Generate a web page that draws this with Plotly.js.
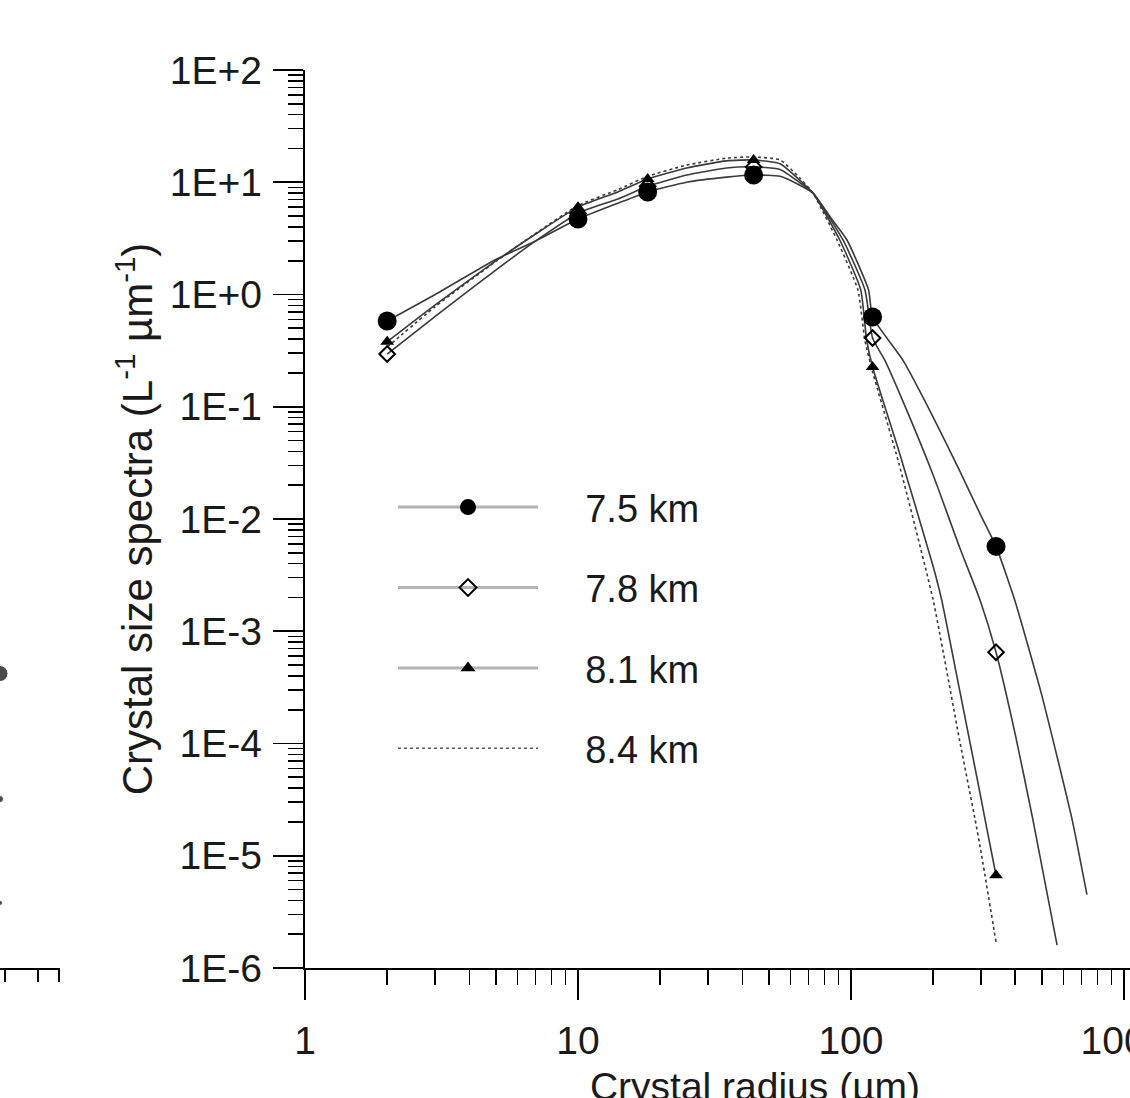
<!DOCTYPE html>
<html>
<head>
<meta charset="utf-8">
<script src="https://cdn.plot.ly/plotly-3.0.1.min.js"></script>
<style>
html, body { margin:0; padding:0; overflow:hidden; background:#fff; }
#chart { width:1205px; height:1120px; }
</style>
</head>
<body>
<div id="chart"></div>
<script>
// ---- data ----
const seriesNames = ['7.5 km', '7.8 km', '8.1 km', '8.4 km'];

// measured points (markers)
const radiusPts = [2, 10, 18, 44, 120, 340];
const n75 = [0.58, 4.7, 8.2, 11.6, 0.63, 0.0057];
const n78 = [0.295, 5.3, 9.2, 13.7, 0.41, 0.00065];
const n81 = [0.38, 6.0, 10.7, 15.8, 0.226, 0.0000067];

// traced curves
const curve75x = [2, 3, 5, 7, 10, 14, 18, 25, 35, 44, 55, 65, 72.6, 85, 96.7, 116, 120, 155, 200, 250, 300, 340, 398, 500, 646, 732];
const curve75y = [0.58, 1.0, 2.05, 3.0, 4.7, 6.5, 8.2, 10.0, 11.1, 11.6, 11.3, 9.4, 8.0, 4.7, 3.06, 1.10, 0.63, 0.26, 0.081, 0.027, 0.0106, 0.0057, 0.0019, 0.00027, 0.000021, 0.0000045];

const curve78x = [2, 3, 5, 7, 10, 14, 18, 25, 35, 44, 55, 65, 72.6, 93.5, 112.5, 120, 133, 150, 200, 250, 297, 340, 400, 464, 569];
const curve78y = [0.295, 0.64, 1.65, 3.0, 5.3, 7.1, 9.2, 11.6, 13.4, 13.7, 13.0, 9.9, 8.0, 3.06, 1.10, 0.41, 0.26, 0.135, 0.0247, 0.0056, 0.0019, 0.00065, 0.00012, 0.000021, 0.0000016];

const curve81x = [2, 3, 5, 7, 10, 14, 18, 25, 35, 44, 55, 65, 72.6, 91, 108.6, 114.2, 120, 150, 200, 215, 250, 300, 310, 340];
const curve81y = [0.38, 0.81, 1.99, 3.46, 6.0, 8.2, 10.7, 13.4, 15.5, 15.8, 14.6, 10.4, 8.0, 3.06, 1.10, 0.39, 0.226, 0.040, 0.0038, 0.0019, 0.0003, 0.000032, 0.000021, 0.0000067];

const curve84x = [2, 3, 5, 7, 10, 14, 18, 25, 35, 44, 55, 65, 72.6, 88.9, 106, 112.5, 120, 150, 200, 250, 285, 300, 340];
const curve84y = [0.34, 0.78, 1.97, 3.5, 6.2, 8.6, 11.3, 14.2, 16.4, 16.8, 15.8, 10.9, 8.0, 3.06, 1.10, 0.39, 0.205, 0.031, 0.0019, 0.000107, 0.000021, 0.0000106, 0.0000017];

// fragment of neighbouring panel (cropped at left edge)
const fragX = [0, 0, 0];
const fragY = [0.00042, 0.000032, 0.0000038];

// axis ticks
const xTickVals = [1, 10, 100, 1000];
const xTickText = ['1', '10', '100', '1000'];
const yTickVals = [1e-6, 1e-5, 1e-4, 1e-3, 1e-2, 1e-1, 1, 10, 100];
const yTickText = ['1E-6', '1E-5', '1E-4', '1E-3', '1E-2', '1E-1', '1E+0', '1E+1', '1E+2'];
const fragTickVals = [5, 38, 59];

// minor tick positions (2..9 within each decade)
function minorLog(startExp, endExp) {
  const out = [];
  for (let e = startExp; e < endExp; e++) {
    for (let m = 2; m <= 9; m++) out.push(m * Math.pow(10, e));
  }
  return out;
}

const FONT = 'Liberation Sans, Arial, Helvetica, sans-serif';
const TXT = '#1a1a1a';
const lineCol = '#3a3a3a';
const legCol = '#b4b4b4';
const PAD = '\u00A0\u00A0\u00A0\u00A0';

const traces = [];
// curves
const curves = [[curve75x, curve75y, 'solid'], [curve78x, curve78y, 'solid'], [curve81x, curve81y, 'solid'], [curve84x, curve84y, 'dot']];
curves.forEach(function (c) {
  traces.push({
    x: c[0], y: c[1], type: 'scatter', mode: 'lines',
    line: { color: lineCol, width: 1.6, shape: 'spline', smoothing: 0.5, dash: c[2] },
    showlegend: false, hoverinfo: 'skip', cliponaxis: false
  });
});
// markers
const markerDefs = [
  [n75, { symbol: 'circle', size: 19, color: '#000' }],
  [n78, { symbol: 'diamond-open', size: 12, color: '#000', line: { width: 2, color: '#000' } }],
  [n81, { symbol: 'triangle-up', size: 12, color: '#000' }]
];
markerDefs.forEach(function (m) {
  traces.push({
    x: radiusPts, y: m[0], type: 'scatter', mode: 'markers',
    marker: m[1], showlegend: false, cliponaxis: false
  });
});
// legend entries
const legDefs = [
  [seriesNames[0], 'lines+markers', { symbol: 'circle', size: 22, color: '#000' }, 'solid'],
  [seriesNames[1], 'lines+markers', { symbol: 'diamond-open', size: 13, color: '#000', line: { width: 2, color: '#000' } }, 'solid'],
  [seriesNames[2], 'lines+markers', { symbol: 'triangle-up', size: 13, color: '#000' }, 'solid'],
  [seriesNames[3], 'lines', {}, 'dot']
];
legDefs.forEach(function (d, i) {
  traces.push({
    x: [null], y: [null], type: 'scatter', mode: d[1], name: PAD + d[0],
    legendgroup: 'g' + i,
    marker: d[2],
    line: { color: d[3] === 'dot' ? '#555' : legCol, width: d[3] === 'dot' ? 1.5 : 3, dash: d[3] }
  });
});
// neighbour panel fragment
traces.push({
  x: fragX, y: fragY, xaxis: 'x2', yaxis: 'y2', type: 'scatter', mode: 'markers',
  marker: { symbol: 'circle', size: [16, 7, 5], color: '#000' },
  showlegend: false, cliponaxis: false, hoverinfo: 'skip'
});

const W = 1205;
const layout = {
  width: W, height: 1120,
  margin: { l: 0, r: 0, t: 70, b: 152 },
  paper_bgcolor: '#fff', plot_bgcolor: '#fff',
  font: { family: FONT, size: 38, color: TXT },
  showlegend: true,
  legend: {
    x: 393 / W, y: 0.548, xanchor: 'left', yanchor: 'top',
    font: { family: FONT, size: 38, color: TXT },
    itemwidth: 140, traceorder: 'grouped', tracegroupgap: 28,
    bgcolor: 'rgba(0,0,0,0)'
  },
  xaxis: {
    type: 'log', domain: [305 / W, 1], range: [0, 3.297],
    tickmode: 'array', tickvals: xTickVals, ticktext: xTickText,
    ticks: 'outside', ticklen: 30, tickwidth: 1.6, tickcolor: '#000',
    showline: true, linecolor: '#000', linewidth: 2.2,
    showgrid: false, zeroline: false,
    minor: { tickmode: 'array', tickvals: minorLog(0, 4), ticks: 'outside', ticklen: 15, tickwidth: 1.6, tickcolor: '#000', showgrid: false },
    tickfont: { family: FONT, size: 39, color: TXT },
    ticklabelstandoff: 7,
    title: { text: 'Crystal radius (µm)', font: { family: FONT, size: 39, color: TXT }, standoff: 12 },
    anchor: 'y'
  },
  yaxis: {
    type: 'log', domain: [0, 1], range: [-6, 2],
    tickmode: 'array', tickvals: yTickVals, ticktext: yTickText,
    ticks: 'outside', ticklen: 30, tickwidth: 1.6, tickcolor: '#000',
    showline: true, linecolor: '#000', linewidth: 2.2,
    showgrid: false, zeroline: false,
    minor: { tickmode: 'array', tickvals: minorLog(-6, 2), ticks: 'outside', ticklen: 15, tickwidth: 1.6, tickcolor: '#000', showgrid: false },
    tickfont: { family: FONT, size: 39, color: TXT },
    ticklabelstandoff: 3,
    title: { text: 'Crystal size spectra (L<sup>-1</sup> µm<sup>-1</sup>)', font: { family: FONT, size: 42, color: TXT }, standoff: 4 },
    anchor: 'x'
  },
  xaxis2: {
    domain: [0, 60 / W], range: [0, 60], anchor: 'y2',
    tickmode: 'array', tickvals: fragTickVals, showticklabels: false,
    ticks: 'outside', ticklen: 12, tickwidth: 1.6, tickcolor: '#000',
    showline: true, linecolor: '#000', linewidth: 2.2,
    showgrid: false, zeroline: false, fixedrange: true
  },
  yaxis2: {
    type: 'log', domain: [0, 1], range: [-6, 2], anchor: 'x2',
    visible: false, showgrid: false, zeroline: false
  }
};

Plotly.newPlot('chart', traces, layout, { displayModeBar: false, staticPlot: true });
</script>
</body>
</html>
